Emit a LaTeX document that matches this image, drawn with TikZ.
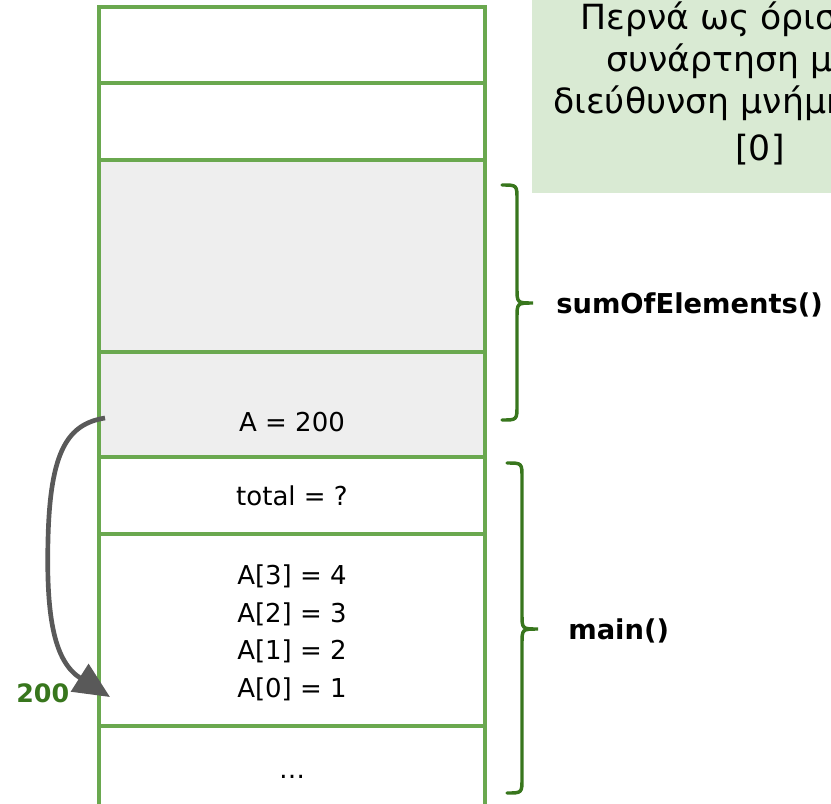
\documentclass[tikz,border=0pt]{standalone}
\usepackage{fontspec}
\setmainfont{DejaVu Sans}
\usetikzlibrary{arrows.meta}
\definecolor{cellgreen}{HTML}{6AA84F}
\definecolor{bracegreen}{HTML}{38761D}
\definecolor{notefill}{HTML}{D9EAD3}
\definecolor{cellgray}{HTML}{EEEEEE}
\definecolor{arrowgray}{HTML}{595959}
\begin{document}
\begin{tikzpicture}[x=0.75pt,y=-0.75pt,
  cellline/.style={draw=cellgreen,line width=3pt},
  celltext/.style={anchor=base,inner sep=0pt,font=\fontsize{19.5}{23}\selectfont},
  notetext/.style={anchor=base west,inner sep=0pt,font=\fontsize{26}{30}\selectfont},
  bracestyle/.style={draw=bracegreen,line width=2.6pt,line cap=round},
  bracelabel/.style={anchor=base west,inner sep=0pt,font=\bfseries\fontsize{20.5}{24}\selectfont},
  ptr/.style={draw=arrowgray,line width=3.5pt,-{Triangle[length=27pt,width=24pt]}},
  ptrlabel/.style={anchor=base west,inner sep=0pt,text=bracegreen,font=\bfseries\fontsize{19}{23}\selectfont}]
\useasboundingbox (0,0) rectangle (831,803);
\begin{scope}
\clip (0,0) rectangle (831,803);
% note box
\fill[notefill] (532,-5) rectangle (840,193);
\node[notetext] (n1) at (580,29) {Περνά ως όρισ};
\node[notetext] (n2) at (606,71) {συνάρτηση με};
\node[notetext] (n3) at (553,113) {διεύθυνση μνήμη};
\node[notetext,anchor=base] (n4) at (760,160) {[0]};
% stack column
\fill[cellgray] (99,160) rectangle (485,457);
\draw[cellline] (99,810) -- (99,7) -- (485,7) -- (485,810);
\foreach \y in {83,160,352,457,534,726} \draw[cellline] (99,\y) -- (485,\y);
\end{scope}
% cell texts
\node[celltext] (a200) at (292,431) {A = 200};
\node[celltext] (total) at (292,505) {total = ?};
\node[celltext] (a3) at (292,584) {A[3] = 4};
\node[celltext] (a2) at (292,622) {A[2] = 3};
\node[celltext] (a1) at (292,659) {A[1] = 2};
\node[celltext] (a0) at (292,697) {A[0] = 1};
\node[celltext] (dots) at (292,778) {…};
% braces
\draw[bracestyle] (502,185) .. controls (517,185) .. (517,200) -- (517,288)
  .. controls (517,303) .. (533,303) .. controls (517,303) .. (517,318)
  -- (517,405) .. controls (517,420) .. (502,420);
\node[bracelabel] (fsum) at (556,313) {sumOfElements()};
\draw[bracestyle] (507,463) .. controls (522,463) .. (522,478) -- (522,614)
  .. controls (522,629) .. (538,629) .. controls (522,629) .. (522,644)
  -- (522,778) .. controls (522,793) .. (507,793);
\node[bracelabel] (fmain) at (568,639) {main()};
% pointer arrow
\coordinate (src) at (105,418);
\coordinate (dst) at (110,697);
\draw[ptr] (src) .. controls (68,424) and (50,450) .. (48,540)
  .. controls (46,620) and (55,662) .. (dst);
\node[ptrlabel] (addr) at (16,702) {200};
\end{tikzpicture}
\end{document}
